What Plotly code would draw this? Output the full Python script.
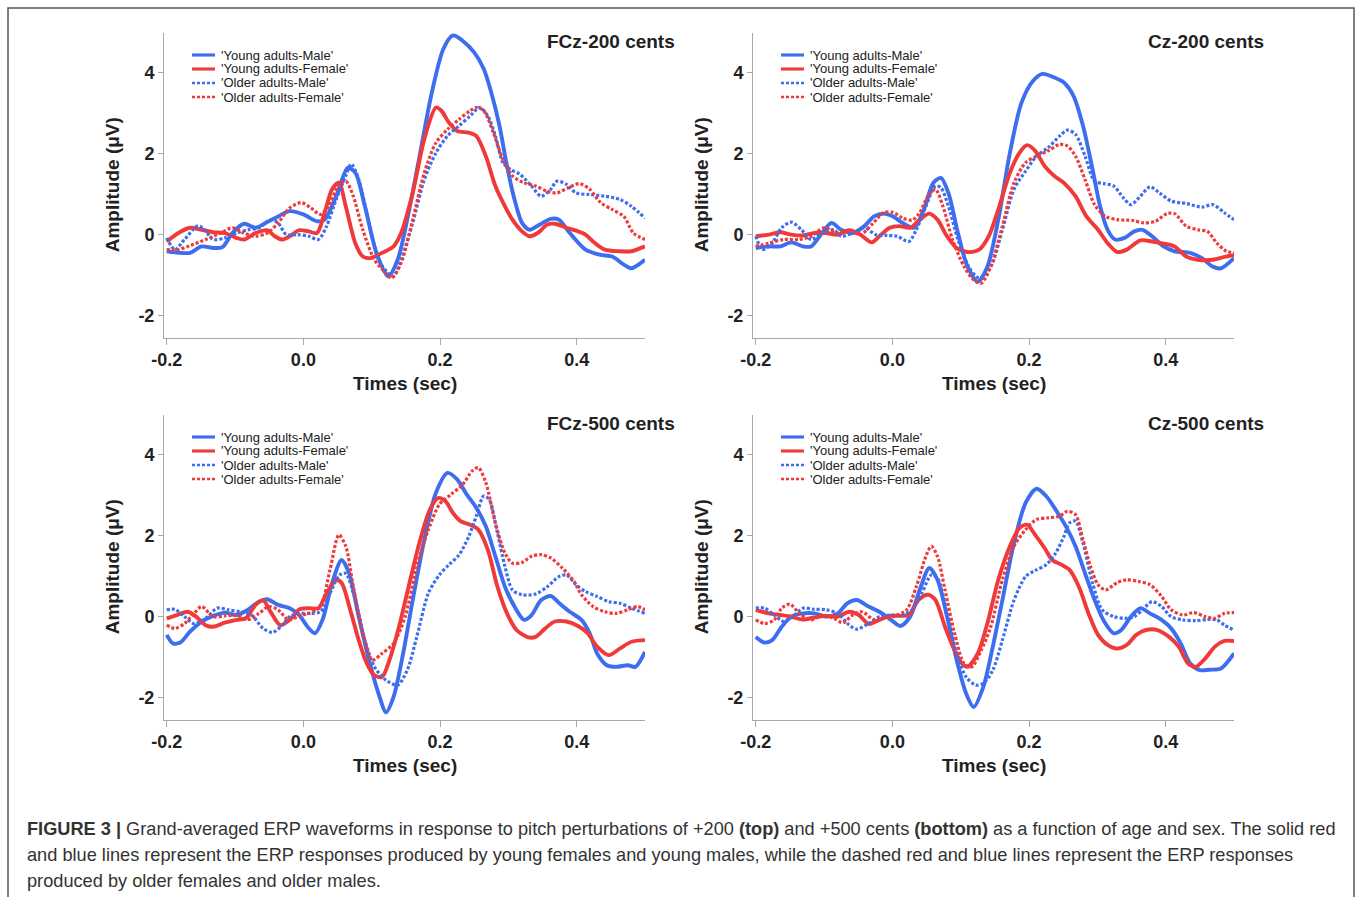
import plotly.graph_objects as go

FIG_W, FIG_H = 1357, 897

# ---------------- text / ticks ----------------
series_names = ["'Young adults-Male'", "'Young adults-Female'",
                "'Older adults-Male'", "'Older adults-Female'"]
panel_titles = ["FCz-200 cents", "Cz-200 cents", "FCz-500 cents", "Cz-500 cents"]
x_tick_vals = [-0.2, 0.0, 0.2, 0.4]
x_tick_text = ["-0.2", "0.0", "0.2", "0.4"]
y_tick_vals = [-2, 0, 2, 4]
y_tick_text = ["-2", "0", "2", "4"]
x_title = "Times (sec)"
y_title = "Amplitude (μV)"
caption_lines = [
    "<b>FIGURE 3 |</b> Grand-averaged ERP waveforms in response to pitch perturbations of +200 <b>(top)</b> and +500 cents <b>(bottom)</b> as a function of age and sex. The solid red",
    "and blue lines represent the ERP responses produced by young females and young males, while the dashed red and blue lines represent the ERP responses",
    "produced by older females and older males.",
]

# ---------------- data: FCz-200 ----------------
fcz200_ym_t = [-0.2, -0.18, -0.166, -0.149, -0.132, -0.118, -0.104, -0.087, -0.07, -0.053, -0.037, -0.02, 0.0, 0.02, 0.031, 0.048, 0.065, 0.076, 0.09, 0.107, 0.124, 0.138, 0.154, 0.171, 0.188, 0.205, 0.219, 0.233, 0.25, 0.264, 0.275, 0.287, 0.298, 0.309, 0.32, 0.331, 0.346, 0.362, 0.374, 0.39, 0.413, 0.435, 0.452, 0.469, 0.48, 0.5]
fcz200_ym_v = [-0.41, -0.45, -0.45, -0.29, -0.33, -0.3, 0.04, 0.27, 0.17, 0.31, 0.45, 0.58, 0.5, 0.33, 0.37, 0.95, 1.65, 1.53, 0.7, -0.45, -1.03, -0.62, 0.54, 2.02, 3.51, 4.59, 4.92, 4.79, 4.5, 4.09, 3.51, 2.69, 1.69, 0.87, 0.29, 0.12, 0.25, 0.39, 0.37, 0.04, -0.37, -0.5, -0.54, -0.74, -0.83, -0.62]
fcz200_yf_t = [-0.2, -0.183, -0.166, -0.149, -0.132, -0.115, -0.098, -0.087, -0.07, -0.053, -0.042, -0.031, -0.02, -0.006, 0.008, 0.02, 0.031, 0.042, 0.052, 0.062, 0.076, 0.087, 0.098, 0.115, 0.132, 0.143, 0.16, 0.177, 0.194, 0.202, 0.213, 0.225, 0.242, 0.253, 0.267, 0.281, 0.295, 0.306, 0.32, 0.331, 0.343, 0.357, 0.368, 0.385, 0.402, 0.413, 0.424, 0.441, 0.463, 0.48, 0.5]
fcz200_yf_v = [-0.17, 0.04, 0.17, 0.12, 0.06, 0.04, -0.08, -0.12, 0.04, 0.11, -0.04, -0.12, -0.04, 0.11, 0.08, 0.04, 0.54, 1.12, 1.28, 0.7, -0.21, -0.54, -0.58, -0.45, -0.29, 0.04, 1.03, 2.36, 3.14, 3.06, 2.77, 2.56, 2.52, 2.44, 1.94, 1.2, 0.7, 0.37, 0.08, -0.04, 0.04, 0.25, 0.27, 0.17, 0.08, 0.0, -0.17, -0.37, -0.41, -0.41, -0.29]
fcz200_om_t = [-0.2, -0.188, -0.174, -0.154, -0.143, -0.132, -0.115, -0.098, -0.081, -0.065, -0.048, -0.037, -0.025, -0.008, 0.008, 0.022, 0.034, 0.048, 0.062, 0.07, 0.081, 0.096, 0.11, 0.124, 0.132, 0.143, 0.16, 0.177, 0.194, 0.211, 0.228, 0.244, 0.258, 0.27, 0.281, 0.292, 0.303, 0.317, 0.334, 0.348, 0.362, 0.371, 0.385, 0.399, 0.419, 0.441, 0.463, 0.48, 0.5]
fcz200_om_v = [-0.08, -0.37, -0.12, 0.22, 0.08, -0.12, -0.08, 0.04, 0.12, 0.17, 0.37, 0.29, 0.0, 0.0, -0.04, -0.12, 0.21, 0.87, 1.45, 1.74, 1.36, 0.29, -0.62, -0.95, -1.03, -0.62, 0.29, 1.36, 2.02, 2.44, 2.69, 2.93, 3.14, 2.93, 2.44, 1.78, 1.61, 1.49, 1.2, 0.95, 1.12, 1.32, 1.24, 1.03, 0.99, 0.95, 0.87, 0.7, 0.41]
fcz200_of_t = [-0.2, -0.183, -0.166, -0.143, -0.121, -0.104, -0.087, -0.07, -0.053, -0.037, -0.02, -0.003, 0.011, 0.025, 0.037, 0.051, 0.062, 0.073, 0.087, 0.104, 0.121, 0.129, 0.143, 0.16, 0.177, 0.194, 0.211, 0.228, 0.244, 0.253, 0.264, 0.278, 0.292, 0.306, 0.323, 0.34, 0.357, 0.371, 0.388, 0.404, 0.419, 0.435, 0.452, 0.469, 0.483, 0.5]
fcz200_of_v = [-0.37, -0.37, -0.27, -0.12, 0.04, 0.17, 0.04, -0.04, 0.04, 0.29, 0.66, 0.79, 0.66, 0.5, 0.7, 1.2, 1.32, 0.95, 0.12, -0.62, -0.95, -1.07, -0.7, 0.37, 1.53, 2.27, 2.6, 2.85, 3.06, 3.14, 3.06, 2.52, 1.86, 1.45, 1.28, 1.2, 1.07, 1.03, 1.16, 1.26, 1.12, 0.79, 0.62, 0.45, 0.04, -0.12]

# ---------------- data: Cz-200 ----------------
cz200_ym_t = [-0.2, -0.181, -0.164, -0.148, -0.131, -0.119, -0.103, -0.089, -0.075, -0.058, -0.041, -0.027, -0.013, 0.001, 0.015, 0.032, 0.046, 0.06, 0.071, 0.082, 0.096, 0.11, 0.125, 0.139, 0.155, 0.172, 0.189, 0.206, 0.22, 0.237, 0.251, 0.265, 0.279, 0.293, 0.304, 0.315, 0.326, 0.34, 0.354, 0.366, 0.38, 0.397, 0.413, 0.436, 0.453, 0.469, 0.481, 0.5]
cz200_ym_v = [-0.33, -0.29, -0.29, -0.19, -0.29, -0.29, 0.04, 0.29, 0.12, 0.04, 0.21, 0.45, 0.52, 0.45, 0.29, 0.17, 0.62, 1.28, 1.4, 1.03, 0.04, -0.79, -1.16, -0.79, 0.37, 2.02, 3.26, 3.8, 3.97, 3.88, 3.76, 3.43, 2.69, 1.61, 0.7, 0.12, -0.12, -0.08, 0.08, 0.12, -0.04, -0.29, -0.41, -0.45, -0.58, -0.79, -0.83, -0.58]
cz200_yf_t = [-0.2, -0.181, -0.164, -0.148, -0.131, -0.114, -0.097, -0.08, -0.063, -0.047, -0.03, -0.019, -0.004, 0.01, 0.026, 0.04, 0.054, 0.066, 0.08, 0.094, 0.11, 0.127, 0.141, 0.155, 0.172, 0.186, 0.197, 0.209, 0.223, 0.237, 0.251, 0.268, 0.284, 0.301, 0.315, 0.329, 0.343, 0.363, 0.38, 0.397, 0.413, 0.43, 0.447, 0.469, 0.486, 0.5]
cz200_yf_v = [-0.04, 0.0, 0.06, 0.0, -0.02, 0.04, 0.04, 0.0, 0.11, 0.0, -0.19, -0.04, 0.17, 0.21, 0.17, 0.37, 0.52, 0.37, -0.04, -0.33, -0.43, -0.37, -0.04, 0.62, 1.53, 2.02, 2.21, 2.07, 1.69, 1.45, 1.28, 0.95, 0.45, 0.12, -0.21, -0.43, -0.37, -0.14, -0.17, -0.22, -0.29, -0.54, -0.62, -0.62, -0.55, -0.5]
cz200_om_t = [-0.2, -0.19, -0.176, -0.162, -0.148, -0.133, -0.119, -0.103, -0.086, -0.075, -0.058, -0.041, -0.024, -0.007, 0.007, 0.024, 0.035, 0.049, 0.063, 0.071, 0.082, 0.096, 0.113, 0.127, 0.144, 0.161, 0.178, 0.195, 0.211, 0.228, 0.245, 0.256, 0.268, 0.282, 0.296, 0.31, 0.324, 0.338, 0.349, 0.363, 0.377, 0.391, 0.408, 0.43, 0.453, 0.469, 0.486, 0.5]
cz200_om_v = [-0.04, -0.37, -0.21, 0.17, 0.31, 0.12, -0.12, 0.04, 0.12, -0.04, 0.04, 0.17, 0.0, -0.02, -0.04, -0.17, 0.12, 0.7, 1.2, 1.16, 0.7, -0.12, -0.83, -1.07, -0.79, 0.12, 1.12, 1.57, 1.94, 2.15, 2.44, 2.58, 2.48, 1.94, 1.32, 1.26, 1.2, 0.91, 0.74, 0.95, 1.18, 1.03, 0.83, 0.77, 0.68, 0.74, 0.54, 0.37]
cz200_of_t = [-0.2, -0.181, -0.159, -0.136, -0.119, -0.1, -0.08, -0.063, -0.047, -0.03, -0.013, 0.001, 0.015, 0.029, 0.04, 0.052, 0.063, 0.074, 0.088, 0.105, 0.119, 0.13, 0.144, 0.161, 0.178, 0.195, 0.211, 0.228, 0.245, 0.256, 0.268, 0.282, 0.296, 0.312, 0.329, 0.352, 0.368, 0.385, 0.402, 0.413, 0.43, 0.447, 0.461, 0.475, 0.489, 0.5]
cz200_of_v = [-0.29, -0.21, -0.12, -0.12, -0.04, 0.17, 0.04, 0.11, 0.0, 0.25, 0.54, 0.55, 0.41, 0.36, 0.54, 0.95, 1.12, 0.7, -0.12, -0.79, -1.12, -1.2, -0.79, 0.21, 1.28, 1.78, 1.94, 2.07, 2.23, 2.19, 1.94, 1.36, 0.74, 0.45, 0.37, 0.35, 0.29, 0.33, 0.52, 0.52, 0.21, 0.12, 0.08, -0.21, -0.41, -0.45]

# ---------------- data: FCz-500 ----------------
fcz500_ym_t = [-0.2, -0.191, -0.18, -0.166, -0.149, -0.132, -0.115, -0.098, -0.081, -0.065, -0.053, -0.037, -0.02, -0.006, 0.006, 0.017, 0.028, 0.042, 0.056, 0.067, 0.081, 0.096, 0.11, 0.121, 0.132, 0.146, 0.16, 0.177, 0.194, 0.211, 0.225, 0.239, 0.253, 0.267, 0.281, 0.295, 0.309, 0.323, 0.334, 0.348, 0.362, 0.376, 0.39, 0.407, 0.419, 0.43, 0.444, 0.458, 0.475, 0.486, 0.5]
fcz500_ym_v = [-0.45, -0.66, -0.64, -0.37, -0.12, 0.02, 0.1, 0.04, 0.17, 0.37, 0.43, 0.29, 0.21, 0.04, -0.25, -0.41, -0.08, 0.83, 1.4, 1.07, 0.0, -1.07, -1.9, -2.36, -1.98, -0.91, 0.41, 1.9, 3.06, 3.55, 3.39, 3.02, 2.69, 2.23, 1.49, 0.74, 0.25, -0.08, 0.04, 0.41, 0.51, 0.31, 0.12, -0.08, -0.41, -0.91, -1.2, -1.24, -1.2, -1.24, -0.87]
fcz500_yf_t = [-0.2, -0.185, -0.169, -0.157, -0.143, -0.132, -0.115, -0.098, -0.084, -0.07, -0.059, -0.048, -0.034, -0.02, -0.006, 0.008, 0.022, 0.034, 0.048, 0.056, 0.07, 0.081, 0.093, 0.104, 0.115, 0.126, 0.14, 0.154, 0.171, 0.185, 0.197, 0.208, 0.219, 0.23, 0.244, 0.256, 0.27, 0.284, 0.298, 0.312, 0.329, 0.34, 0.354, 0.368, 0.385, 0.402, 0.416, 0.43, 0.447, 0.463, 0.48, 0.5]
fcz500_yf_v = [-0.04, 0.04, 0.12, 0.0, -0.21, -0.25, -0.15, -0.08, -0.04, 0.29, 0.4, 0.12, -0.21, -0.08, 0.18, 0.21, 0.21, 0.58, 0.91, 0.83, 0.08, -0.58, -1.16, -1.45, -1.49, -1.07, -0.25, 0.74, 1.9, 2.64, 2.93, 2.85, 2.56, 2.36, 2.27, 2.15, 1.65, 0.74, 0.08, -0.33, -0.51, -0.5, -0.29, -0.12, -0.12, -0.23, -0.41, -0.74, -0.95, -0.79, -0.62, -0.58]
fcz500_om_t = [-0.2, -0.188, -0.174, -0.16, -0.143, -0.126, -0.11, -0.093, -0.076, -0.059, -0.045, -0.031, -0.02, -0.006, 0.011, 0.025, 0.039, 0.053, 0.062, 0.076, 0.09, 0.104, 0.121, 0.138, 0.152, 0.166, 0.183, 0.199, 0.213, 0.228, 0.242, 0.253, 0.264, 0.272, 0.284, 0.295, 0.306, 0.32, 0.34, 0.357, 0.374, 0.385, 0.399, 0.413, 0.43, 0.447, 0.463, 0.48, 0.5]
fcz500_om_v = [0.17, 0.18, 0.0, -0.17, -0.04, 0.21, 0.17, 0.12, 0.04, -0.29, -0.39, -0.21, 0.0, 0.08, 0.08, 0.12, 0.58, 1.03, 1.07, 0.41, -0.58, -1.24, -1.57, -1.69, -1.32, -0.5, 0.58, 1.03, 1.28, 1.53, 1.98, 2.48, 2.98, 2.89, 2.07, 1.24, 0.66, 0.54, 0.56, 0.74, 0.99, 1.03, 0.79, 0.62, 0.5, 0.37, 0.33, 0.21, 0.08]
fcz500_of_t = [-0.2, -0.188, -0.174, -0.16, -0.149, -0.132, -0.115, -0.098, -0.081, -0.065, -0.051, -0.037, -0.022, -0.006, 0.008, 0.025, 0.039, 0.052, 0.062, 0.073, 0.087, 0.101, 0.115, 0.132, 0.149, 0.166, 0.183, 0.199, 0.216, 0.233, 0.247, 0.256, 0.267, 0.281, 0.295, 0.306, 0.32, 0.334, 0.348, 0.362, 0.379, 0.396, 0.407, 0.424, 0.441, 0.458, 0.475, 0.489, 0.5]
fcz500_of_v = [-0.21, -0.29, -0.17, 0.08, 0.25, 0.0, 0.02, 0.04, -0.07, 0.08, 0.25, 0.17, -0.08, 0.02, 0.08, 0.25, 1.16, 2.02, 1.74, 0.74, -0.41, -1.07, -0.91, -0.66, 0.0, 1.24, 2.15, 2.77, 3.02, 3.26, 3.6, 3.68, 3.31, 2.31, 1.57, 1.32, 1.34, 1.49, 1.53, 1.45, 1.2, 0.87, 0.54, 0.25, 0.12, 0.08, 0.17, 0.25, 0.17]

# ---------------- data: Cz-500 ----------------
cz500_ym_t = [-0.2, -0.187, -0.176, -0.162, -0.148, -0.131, -0.114, -0.097, -0.08, -0.066, -0.052, -0.035, -0.019, -0.002, 0.012, 0.026, 0.04, 0.054, 0.066, 0.08, 0.094, 0.108, 0.119, 0.133, 0.147, 0.161, 0.178, 0.195, 0.211, 0.225, 0.239, 0.254, 0.268, 0.282, 0.296, 0.31, 0.324, 0.335, 0.349, 0.363, 0.377, 0.394, 0.408, 0.422, 0.436, 0.45, 0.464, 0.481, 0.5]
cz500_ym_v = [-0.5, -0.64, -0.58, -0.25, 0.0, 0.08, 0.08, 0.0, 0.08, 0.33, 0.41, 0.25, 0.12, -0.08, -0.23, 0.0, 0.66, 1.2, 0.91, 0.0, -1.07, -1.9, -2.23, -1.74, -0.74, 0.41, 1.82, 2.81, 3.16, 2.98, 2.64, 2.23, 1.74, 1.07, 0.41, -0.12, -0.41, -0.33, 0.0, 0.21, 0.08, -0.08, -0.29, -0.66, -1.16, -1.32, -1.31, -1.28, -0.91]
cz500_yf_t = [-0.2, -0.181, -0.164, -0.148, -0.131, -0.114, -0.097, -0.08, -0.063, -0.049, -0.035, -0.019, -0.004, 0.01, 0.024, 0.038, 0.052, 0.063, 0.077, 0.091, 0.102, 0.11, 0.125, 0.139, 0.155, 0.172, 0.186, 0.197, 0.209, 0.223, 0.234, 0.248, 0.259, 0.273, 0.287, 0.301, 0.315, 0.329, 0.343, 0.357, 0.371, 0.388, 0.405, 0.419, 0.433, 0.444, 0.458, 0.472, 0.486, 0.5]
cz500_yf_v = [0.17, 0.08, 0.04, 0.0, -0.07, -0.02, 0.02, 0.0, 0.12, 0.04, -0.18, -0.08, 0.02, 0.02, 0.04, 0.41, 0.54, 0.41, -0.25, -0.83, -1.16, -1.24, -0.91, -0.17, 0.91, 1.74, 2.19, 2.27, 2.02, 1.69, 1.4, 1.28, 1.16, 0.74, 0.08, -0.45, -0.7, -0.79, -0.7, -0.45, -0.33, -0.33, -0.5, -0.74, -1.16, -1.24, -1.03, -0.74, -0.6, -0.6]
cz500_om_t = [-0.2, -0.187, -0.173, -0.159, -0.145, -0.131, -0.114, -0.097, -0.08, -0.063, -0.052, -0.035, -0.019, -0.002, 0.015, 0.029, 0.043, 0.057, 0.066, 0.08, 0.094, 0.108, 0.122, 0.133, 0.147, 0.161, 0.178, 0.195, 0.209, 0.225, 0.239, 0.251, 0.259, 0.268, 0.279, 0.293, 0.307, 0.324, 0.34, 0.354, 0.366, 0.38, 0.394, 0.408, 0.425, 0.444, 0.461, 0.475, 0.486, 0.5]
cz500_om_v = [0.21, 0.21, 0.04, -0.12, 0.0, 0.21, 0.18, 0.17, 0.08, -0.21, -0.31, -0.17, 0.0, 0.04, 0.04, 0.17, 0.58, 1.03, 0.95, 0.08, -0.91, -1.49, -1.69, -1.65, -1.32, -0.58, 0.41, 0.99, 1.14, 1.28, 1.57, 1.98, 2.31, 2.36, 1.82, 0.83, 0.17, 0.0, -0.04, 0.0, 0.17, 0.37, 0.25, 0.0, -0.08, -0.1, -0.07, -0.08, -0.21, -0.33]
cz500_of_t = [-0.2, -0.187, -0.173, -0.162, -0.15, -0.136, -0.119, -0.103, -0.086, -0.072, -0.058, -0.044, -0.027, -0.013, 0.004, 0.021, 0.035, 0.049, 0.057, 0.066, 0.077, 0.091, 0.105, 0.116, 0.13, 0.144, 0.161, 0.178, 0.195, 0.211, 0.228, 0.245, 0.256, 0.268, 0.279, 0.29, 0.301, 0.312, 0.329, 0.343, 0.36, 0.377, 0.394, 0.408, 0.425, 0.441, 0.458, 0.472, 0.486, 0.5]
cz500_of_v = [-0.08, -0.17, -0.08, 0.21, 0.31, 0.08, -0.08, 0.04, -0.04, -0.15, 0.04, 0.12, -0.08, -0.04, 0.02, 0.17, 0.74, 1.49, 1.74, 1.49, 0.66, -0.41, -1.16, -1.24, -0.83, -0.25, 0.91, 1.74, 2.15, 2.4, 2.44, 2.48, 2.6, 2.52, 1.9, 1.24, 0.79, 0.66, 0.84, 0.91, 0.87, 0.79, 0.5, 0.17, 0.04, 0.1, 0.0, -0.04, 0.08, 0.1]

panels = [
    [(fcz200_ym_t, fcz200_ym_v), (fcz200_yf_t, fcz200_yf_v), (fcz200_om_t, fcz200_om_v), (fcz200_of_t, fcz200_of_v)],
    [(cz200_ym_t, cz200_ym_v), (cz200_yf_t, cz200_yf_v), (cz200_om_t, cz200_om_v), (cz200_of_t, cz200_of_v)],
    [(fcz500_ym_t, fcz500_ym_v), (fcz500_yf_t, fcz500_yf_v), (fcz500_om_t, fcz500_om_v), (fcz500_of_t, fcz500_of_v)],
    [(cz500_ym_t, cz500_ym_v), (cz500_yf_t, cz500_yf_v), (cz500_om_t, cz500_om_v), (cz500_of_t, cz500_of_v)],
]

# ---------------- styling ----------------
FONT = "Liberation Sans, Arial, Helvetica, sans-serif"
BLUE = "#3d6ef0"
RED = "#f03a3a"
AXIS = "#a8a8a8"
TXT = "#222222"
styles = [
    dict(color=BLUE, width=3.9, dash="solid"),
    dict(color=RED, width=3.9, dash="solid"),
    dict(color=BLUE, width=3.2, dash="3px,2px"),
    dict(color=RED, width=3.2, dash="3px,2px"),
]

panel_left = [164, 753, 164, 753]
panel_top = [33, 33, 415, 415]
PW, PH = 481, 304.5


def fx(px):
    return px / FIG_W


def fy(py):
    return 1 - py / FIG_H


fig = go.Figure()
layout_axes = {}
annotations = []
shapes = []

for i, (series, title) in enumerate(zip(panels, panel_titles)):
    n = i + 1
    xa = "x" if n == 1 else f"x{n}"
    ya = "y" if n == 1 else f"y{n}"
    for (t, v), name, st in zip(series, series_names, styles):
        m = min(len(t), len(v))
        fig.add_trace(go.Scatter(
            x=t[:m], y=v[:m], mode="lines", name=name, showlegend=False,
            xaxis=xa, yaxis=ya, hoverinfo="skip",
            line=dict(color=st["color"], width=st["width"], dash=st["dash"],
                      shape="spline", smoothing=0.8),
        ))
    L, T = panel_left[i], panel_top[i]
    xkey = "xaxis" if n == 1 else f"xaxis{n}"
    ykey = "yaxis" if n == 1 else f"yaxis{n}"
    layout_axes[xkey] = dict(
        domain=[fx(L), fx(L + PW)], range=[-0.204, 0.5], anchor=ya,
        tickvals=x_tick_vals, ticktext=x_tick_text, ticks="outside",
        ticklen=6, tickwidth=1, tickcolor=AXIS, showline=True, linecolor=AXIS,
        linewidth=1, showgrid=False, zeroline=False, fixedrange=True, automargin=False,
        tickfont=dict(family=FONT, size=18, color=TXT, weight="bold"),
    )
    layout_axes[ykey] = dict(
        domain=[fy(T + PH), fy(T)], range=[-2.54, 4.98], anchor=xa,
        tickvals=y_tick_vals, ticktext=y_tick_text, ticks="outside",
        ticklen=5, tickwidth=1, tickcolor=AXIS, showline=True, linecolor=AXIS,
        linewidth=1, showgrid=False, zeroline=False, fixedrange=True, automargin=False,
        tickfont=dict(family=FONT, size=18, color=TXT, weight="bold"),
    )
    # panel title
    annotations.append(dict(
        text=f"<b>{title}</b>", x=fx(L + 513), y=fy(T + 8), xref="paper", yref="paper",
        xanchor="right", yanchor="middle", showarrow=False,
        font=dict(family=FONT, size=19, color=TXT),
    ))
    # axis titles
    annotations.append(dict(
        text=f"<b>{x_title}</b>", x=fx(L + PW / 2), y=fy(T + PH + 46), xref="paper", yref="paper",
        xanchor="center", yanchor="middle", showarrow=False,
        font=dict(family=FONT, size=19, color=TXT),
    ))
    annotations.append(dict(
        text=f"<b>{y_title}</b>", x=fx(L - 52), y=fy(T + PH / 2), xref="paper", yref="paper",
        xanchor="center", yanchor="middle", showarrow=False, textangle=-90,
        font=dict(family=FONT, size=19, color=TXT),
    ))
    # legend (drawn)
    for k, (name, st) in enumerate(zip(series_names, styles)):
        ry = T + 22 + 14 * k
        shapes.append(dict(
            type="line", xref="paper", yref="paper",
            x0=fx(L + 28), x1=fx(L + 51), y0=fy(ry), y1=fy(ry),
            line=dict(color=st["color"], width=st["width"] * 0.8, dash=st["dash"]),
        ))
        annotations.append(dict(
            text=name, x=fx(L + 55), y=fy(ry), xref="paper", yref="paper",
            xanchor="left", yanchor="middle", showarrow=False,
            font=dict(family=FONT, size=13, color="#222222"),
        ))

# caption
for k, line in enumerate(caption_lines):
    annotations.append(dict(
        text=line, x=fx(25), y=fy(829 + 26 * k), xref="paper", yref="paper",
        xanchor="left", yanchor="middle", showarrow=False,
        font=dict(family=FONT, size=18.2, color="#333333"),
    ))

# figure frame
shapes.append(dict(
    type="rect", xref="paper", yref="paper",
    x0=fx(8), x1=fx(1354), y0=fy(920), y1=fy(8),
    line=dict(color="#555555", width=1.5), fillcolor="rgba(0,0,0,0)", layer="below",
))

fig.update_layout(
    width=FIG_W, height=FIG_H, autosize=False,
    margin=dict(l=0, r=0, t=0, b=0, pad=0),
    paper_bgcolor="white", plot_bgcolor="white",
    showlegend=False,
    annotations=annotations, shapes=shapes,
    **layout_axes,
)

fig.write_html("out.html", config={"displayModeBar": False, "responsive": False})
